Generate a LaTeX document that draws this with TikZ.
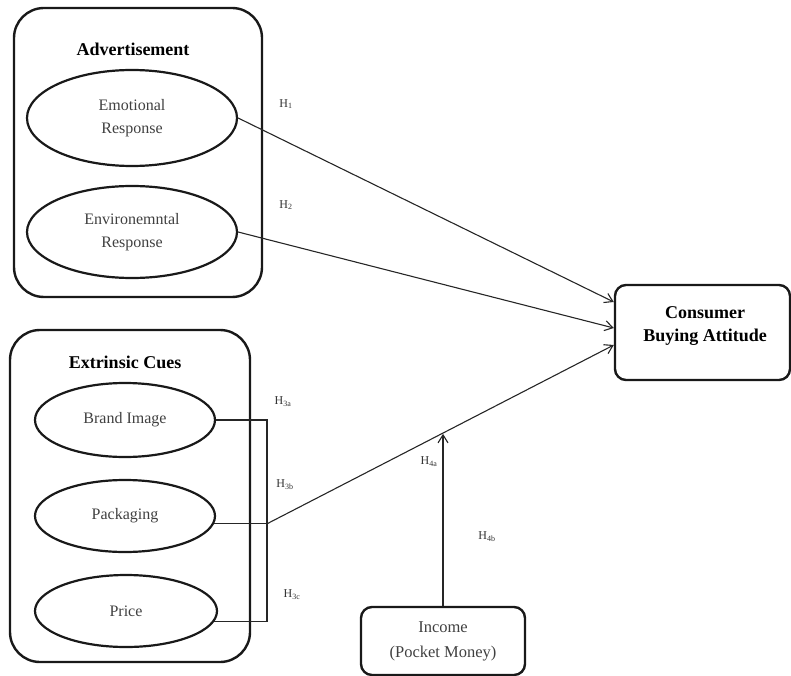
\documentclass[tikz,border=0pt]{standalone}
\usepackage{fontspec}
\setmainfont{Liberation Serif}
\usetikzlibrary{shapes.geometric,arrows.meta,calc}
\begin{document}
\begin{tikzpicture}[x=1pt,y=-1pt,
  group/.style={draw=black!90, line width=2.4pt, rounded corners=30pt, inner sep=0pt},
  smallbox/.style={draw=black!90, line width=2.4pt, rounded corners=11pt, inner sep=0pt, align=center},
  oval/.style={ellipse, draw=black!90, line width=2.2pt, inner sep=0pt, align=center,
     font=\fontsize{16}{23}\selectfont, text=black!75},
  body/.style={font=\fontsize{16.5}{25}\selectfont, text=black!75},
  title/.style={font=\bfseries\fontsize{18}{26}\selectfont, text=black, align=center},
  hlabel/.style={font=\fontsize{12}{14}\selectfont, text=black!80},
  link/.style={line width=1.1pt, draw=black!85},
  arr/.style={link, -{Straight Barb[length=8pt,width=10pt,line width=1.1pt]}}]
\useasboundingbox (0,0) rectangle (791,676);

% groups
\node[group, minimum width=248pt, minimum height=289pt] (adbox) at (138,152.5) {};
\node[title] (adtitle) at (133,49) {Advertisement};
\node[oval, minimum width=210pt, minimum height=96pt] (emo) at (132,118) {Emotional\\Response};
\node[oval, minimum width=210pt, minimum height=92pt] (env) at (132,232) {Environemntal\\Response};

\node[group, minimum width=240pt, minimum height=332pt] (exbox) at (130,496) {};
\node[title] (extitle) at (125,362) {Extrinsic Cues};
\node[oval, minimum width=180pt, minimum height=74pt] (brand) at (125,420) {Brand Image};
\node[oval, minimum width=180pt, minimum height=72pt] (pack) at (125,516) {Packaging};
\node[oval, minimum width=182pt, minimum height=72pt] (price) at (126,611) {Price};

% outcome and moderator
\node[smallbox, minimum width=175pt, minimum height=95pt] (cba) at (702.5,332.5) {};
\node[title] (cbatext) at (705,326) {Consumer\\[-3pt]Buying Attitude};
\node[smallbox, body, minimum width=164pt, minimum height=68pt] (inc) at (443,641) {Income\\(Pocket Money)};

% connectors
\draw[arr] (emo.east) -- ([yshift=30.5pt]cba.west);
\draw[arr] (env.east) -- ([yshift=4.5pt]cba.west);

\coordinate (bx) at (267,0);
\draw[link] (brand.east) -- (brand.east -| bx) -- (price.-7 -| bx) -- (price.-7);
\draw[link] (pack.-5) -- (pack.-5 -| bx) coordinate (J);
\coordinate (T) at ([yshift=-12.5pt]cba.west);
\draw[arr] (J) -- (T);
\path (J) -- (T) coordinate[pos=0.503] (M);
\draw[arr] (inc.north) -- (inc.north |- M);

% hypothesis labels
\node[hlabel] (h1) at (286,104) {H\textsubscript{1}};
\node[hlabel] (h2) at (286,205) {H\textsubscript{2}};
\node[hlabel] (h3a) at (283,402) {H\textsubscript{3a}};
\node[hlabel] (h3b) at (285,485) {H\textsubscript{3b}};
\node[hlabel] (h3c) at (292,595) {H\textsubscript{3c}};
\node[hlabel] (h4a) at (429,462) {H\textsubscript{4a}};
\node[hlabel] (h4b) at (487,537) {H\textsubscript{4b}};
\end{tikzpicture}
\end{document}
